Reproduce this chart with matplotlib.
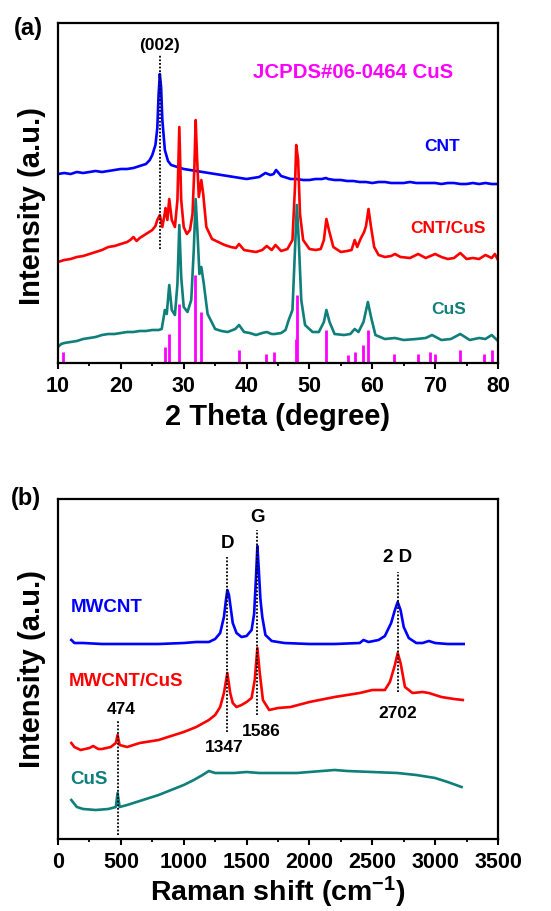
import matplotlib
matplotlib.use("Agg")
import matplotlib.pyplot as plt
from matplotlib.ticker import MultipleLocator

plt.rcParams['font.family'] = ['Liberation Sans', 'DejaVu Sans']
plt.rcParams['font.weight'] = 'bold'
plt.rcParams['mathtext.fontset'] = 'custom'
plt.rcParams['mathtext.rm'] = 'Liberation Sans:bold'
plt.rcParams['mathtext.bf'] = 'Liberation Sans:bold'
plt.rcParams['mathtext.it'] = 'Liberation Sans:bold'

BLUE = '#0000ff'
RED = '#ff0000'
TEAL = '#0f7f7a'
MAG = '#ff00ff'

# ---------------- XRD data (a) ----------------
cnt_theta = [10, 11, 12, 13, 14, 15, 16, 17, 18, 19, 20, 21, 22, 23, 24, 24.6, 25, 25.5, 25.8, 26.0,
             26.2, 26.4, 26.6, 27.0, 27.5, 28, 29, 30, 31, 32, 33, 34, 35, 36, 37, 38, 39, 40, 41,
             42, 42.5, 43, 43.4, 43.8, 44.3, 44.7, 45.1, 45.5, 46, 47, 48, 49, 50, 51, 52, 52.6, 53,
             54, 55, 56, 57, 58, 59, 60, 61, 62, 63, 64, 65, 66, 67, 68, 69, 70, 71, 72, 73, 74, 75,
             76, 77, 78, 79, 80]
cnt_int = [189, 190, 189, 191, 190, 191, 192, 191, 192, 193, 194, 194, 195, 197, 199, 203, 208, 218,
           235, 268, 289, 276, 243, 213, 202, 198, 196, 194, 193, 192, 191, 190, 189, 188, 187, 186,
           185, 184, 185, 186, 188, 190, 189, 188, 189, 193, 190, 187, 186, 184, 184, 183, 183, 184,
           184, 185, 184, 183, 183, 182, 182, 181, 181, 180, 181, 181, 180, 180, 180, 181, 180, 180,
           180, 180, 179, 180, 180, 179, 179, 180, 179, 180, 179, 179]

cus_cnt_theta = [10, 11, 12, 13, 14, 15, 16, 17, 18, 19, 20, 21, 21.5, 22, 22.5, 23, 24, 25, 25.5, 25.8,
                 26.2, 26.6, 27.0, 27.1, 27.4, 27.7, 28.1, 28.6, 29.0, 29.3, 29.6, 30.0, 30.5, 31.0,
                 31.4, 31.7, 31.9, 32.1, 32.4, 32.8, 33.1, 33.6, 34.5, 35.5, 36.5, 37.5, 38.3, 38.8,
                 39.6, 40.5, 41.5, 42.5, 43.2, 44.0, 44.6, 45.5, 46.5, 47.3, 47.7, 47.9, 48.2, 48.5,
                 49.0, 50.0, 51.0, 51.8, 52.3, 52.7, 53.1, 53.8, 55, 56, 56.7, 57.2, 57.6, 58.2, 58.7,
                 59.0, 59.4, 59.8, 60.3, 61, 62, 63, 63.6, 64.5, 66, 67.3, 68.5, 70, 71, 72, 73,
                 74, 75, 76, 77, 78, 79, 79.5, 80]
cus_cnt_int = [101, 103, 104, 106, 107, 109, 111, 113, 116, 117, 119, 121, 123, 126, 122, 125, 129, 133,
               137, 143, 148, 136, 150, 155, 143, 164, 143, 136, 163, 236, 163, 136, 129, 133,
               149, 196, 243, 209, 166, 183, 169, 136, 124, 121, 118, 116, 115, 119,
               113, 112, 111, 113, 117, 113, 118, 112, 114, 123, 176, 218, 203, 149,
               123, 114, 113, 114, 123, 144, 133, 116, 111, 112, 113, 123, 116, 125, 131,
               137, 154, 136, 116, 108, 106, 107, 109, 106, 105, 109, 105, 109, 106, 104, 105,
               110, 104, 105, 104, 108, 105, 109, 103]

cus_theta = [10, 10.5, 11, 12, 13, 14, 15, 16, 17, 18, 19, 20, 21, 22, 23, 24, 25, 26, 26.5, 27.0, 27.3,
             27.7, 28.1, 28.6, 29.0, 29.3, 29.6, 30.0, 30.6, 31.2, 31.6, 31.9, 32.2, 32.5, 32.8, 33.2,
             33.8, 35, 36, 37, 38.2, 38.8, 39.6, 40.5, 41.5, 42.5, 43.2, 44, 44.5, 45.5, 46.2, 46.7,
             47.3, 47.7, 48.0, 48.3, 48.7, 49.3, 50.5, 51.5, 52.3, 52.7, 53.2, 54, 55.5, 56.5, 57.2,
             57.8, 58.6, 59.3, 59.8, 60.5, 62, 63.6, 65, 67, 68.5, 69.5, 71, 72.5, 74, 75.5, 77,
             78, 79, 80]
cus_int = [16, 19, 20, 21, 22, 24, 25, 26, 28, 29, 29, 30, 31, 31, 32, 32, 33, 33, 34, 53, 49,
           78, 53, 48, 79, 138, 86, 56, 51, 63, 113, 164, 129, 89, 96, 79,
           49, 34, 32, 31, 34, 38, 31, 30, 28, 30, 31, 29, 29, 30, 33, 43,
           53, 113, 158, 123, 63, 38, 31, 31, 41, 53, 41, 29, 28, 29, 34,
           31, 41, 61, 46, 28, 24, 25, 23, 24, 25, 28, 23, 24, 29, 23, 25,
           24, 28, 22]

ref_theta = [10.8, 27.1, 27.7, 29.3, 31.8, 32.8, 38.8, 43.1, 44.3, 47.8, 48.0, 52.7, 56.2, 57.2,
             58.6, 59.3, 63.5, 67.3, 69.2, 70.0, 73.9, 77.7, 79.0]
ref_int = [11, 16, 29, 59, 88, 51, 13, 9, 11, 24, 68, 33, 8, 11, 18, 33, 9, 9, 11, 9, 13, 9, 13]

# ---------------- Raman data (b) ----------------
mw_x = [106, 115, 130, 200, 350, 500, 650, 800, 1000, 1100, 1200, 1250, 1290, 1320, 1335, 1347,
        1360, 1375, 1390, 1420, 1460, 1500, 1540, 1560, 1575, 1586, 1597, 1610, 1625, 1650, 1700,
        1800, 2000, 2200, 2400, 2430, 2470, 2550, 2600, 2650, 2680, 2702, 2725, 2750, 2790, 2850,
        2900, 2950, 3000, 3100, 3227]
mw_int = [199, 198, 196, 196, 195, 195, 195, 195, 196, 197, 197, 200, 206, 222, 238, 249,
          244, 230, 216, 206, 202, 203, 209, 225, 262, 293, 270, 240, 222, 204, 198,
          196, 195, 195, 196, 199, 197, 199, 203, 216, 229, 237, 229, 212, 201, 196,
          196, 198, 196, 195, 195]

mwc_x = [106, 130, 180, 250, 280, 320, 350, 420, 460, 474, 490, 550, 650, 800, 900, 1000, 1100, 1200,
         1250, 1290, 1320, 1347, 1370, 1390, 1420, 1460, 1500, 1540, 1565, 1586, 1605, 1630, 1680,
         1750, 1850, 2000, 2200, 2400, 2500, 2600, 2640, 2680, 2702, 2725, 2760, 2820, 2900,
         2950, 3050, 3150, 3220]
mwc_int = [96, 92, 89, 91, 93, 90, 90, 92, 96, 104, 94, 92, 96, 99, 103, 107, 112, 119,
           124, 132, 146, 166, 146, 136, 132, 134, 137, 141, 159, 191, 166, 139, 129,
           131, 132, 137, 142, 146, 149, 149, 157, 174, 186, 176, 152, 146, 147,
           146, 142, 140, 139]

cusr_x = [106, 150, 200, 300, 400, 460, 474, 490, 550, 650, 800, 900, 1000, 1080, 1150, 1200, 1250,
          1300, 1400, 1500, 1600, 1800, 1900, 2000, 2100, 2200, 2300, 2500, 2700, 2850, 3000,
          3100, 3210]
cusr_int = [39, 32, 30, 29, 30, 32, 46, 32, 34, 38, 44, 49, 54, 59, 64, 68, 66,
            66, 66, 67, 66, 66, 66, 67, 68, 69, 68, 67, 66, 64, 61,
            57, 52]

raman_peaks = [474, 1347, 1586, 2702]
raman_peak_labels = ['474', '1347', '1586', '2702']
band_labels = ['D', 'G', '2 D']

# ---------------- Figure ----------------
fig = plt.figure(figsize=(5.51, 9.11), dpi=100)
W, H = 551.0, 911.0
ax1 = fig.add_axes([58 / W, 1 - 363 / H, 440 / W, 340 / H])
ax2 = fig.add_axes([58 / W, 1 - 839 / H, 440 / W, 340 / H])

for ax in (ax1, ax2):
    for s in ax.spines.values():
        s.set_linewidth(1.6)
    ax.set_yticks([])
    ax.tick_params(axis='x', which='major', direction='out', length=4, width=1.5,
                   labelsize=15.5, pad=5)
    ax.tick_params(axis='x', which='minor', direction='out', length=2.5, width=1.3)
    ax.set_ylim(0, 340)
    ax.set_ylabel('Intensity (a.u.)', fontsize=21, fontweight='bold')

ax1.yaxis.set_label_coords(-0.027, 0.462)
ax2.yaxis.set_label_coords(-0.027, 0.5)

LW = 1.9
# (a)
ax1.plot(cnt_theta, cnt_int, color=BLUE, lw=LW)
ax1.plot(cus_cnt_theta, cus_cnt_int, color=RED, lw=LW)
ax1.plot(cus_theta, cus_int, color=TEAL, lw=LW)
ax1.vlines(ref_theta, 0, ref_int, color=MAG, lw=2.0)
ax1.vlines([26.2], 114, 308, colors='black', linestyles=(0, (1, 1)), lw=1.3)
ax1.text(26.2, 318, '(002)', ha='center', va='center', fontsize=12.5, fontweight='bold')
ax1.text(57, 291, 'JCPDS#06-0464 CuS', ha='center', va='center', fontsize=14.7,
         fontweight='bold', color=MAG)
ax1.text(71.1, 217, 'CNT', ha='center', va='center', fontsize=12.5, fontweight='bold', color=BLUE)
ax1.text(72.1, 135, 'CNT/CuS', ha='center', va='center', fontsize=12.5, fontweight='bold', color=RED)
ax1.text(72.1, 54, 'CuS', ha='center', va='center', fontsize=12.5, fontweight='bold', color=TEAL)
ax1.set_xlim(10, 80)
ax1.xaxis.set_major_locator(MultipleLocator(10))
ax1.xaxis.set_minor_locator(MultipleLocator(5))
ax1.set_xlabel('2 Theta (degree)', fontsize=21, fontweight='bold', labelpad=5)

# (b)
ax2.plot(mw_x, mw_int, color=BLUE, lw=LW)
ax2.plot(mwc_x, mwc_int, color=RED, lw=LW)
ax2.plot(cusr_x, cusr_int, color=TEAL, lw=LW)
line_ranges = [(4, 119), (107, 282), (124, 309), (147, 267)]
for xp, (lo, hi) in zip(raman_peaks, line_ranges):
    ax2.vlines([xp], lo, hi, colors='black', linestyles=(0, (1, 1)), lw=1.3)
num_pos = [(501, 129), (1323, 92), (1617, 108), (2702, 126)]
for lab, (xp, yp) in zip(raman_peak_labels, num_pos):
    ax2.text(xp, yp, lab, ha='center', va='center', fontsize=12.5, fontweight='bold')
band_pos = [(1347, 296), (1586, 322), (2702, 282)]
for lab, (xp, yp) in zip(band_labels, band_pos):
    ax2.text(xp, yp, lab, ha='center', va='center', fontsize=13.5, fontweight='bold')
ax2.text(98, 231, 'MWCNT', ha='left', va='center', fontsize=13.5, fontweight='bold', color=BLUE)
ax2.text(85, 157, 'MWCNT/CuS', ha='left', va='center', fontsize=13.5, fontweight='bold', color=RED)
ax2.text(98, 59, 'CuS', ha='left', va='center', fontsize=13.5, fontweight='bold', color=TEAL)
ax2.set_xlim(0, 3500)
ax2.xaxis.set_major_locator(MultipleLocator(500))
ax2.xaxis.set_minor_locator(MultipleLocator(250))
ax2.set_xlabel('Raman shift (cm$^{-1}$)', fontsize=20.5, fontweight='bold', labelpad=2)

for lab in ax1.get_xticklabels() + ax2.get_xticklabels():
    lab.set_fontweight('bold')

fig.text(28 / W, 1 - 28 / H, '(a)', ha='center', va='center', fontsize=17, fontweight='bold')
fig.text(26 / W, 1 - 499 / H, '(b)', ha='center', va='center', fontsize=17, fontweight='bold')

fig.savefig('out.png', dpi=100)
